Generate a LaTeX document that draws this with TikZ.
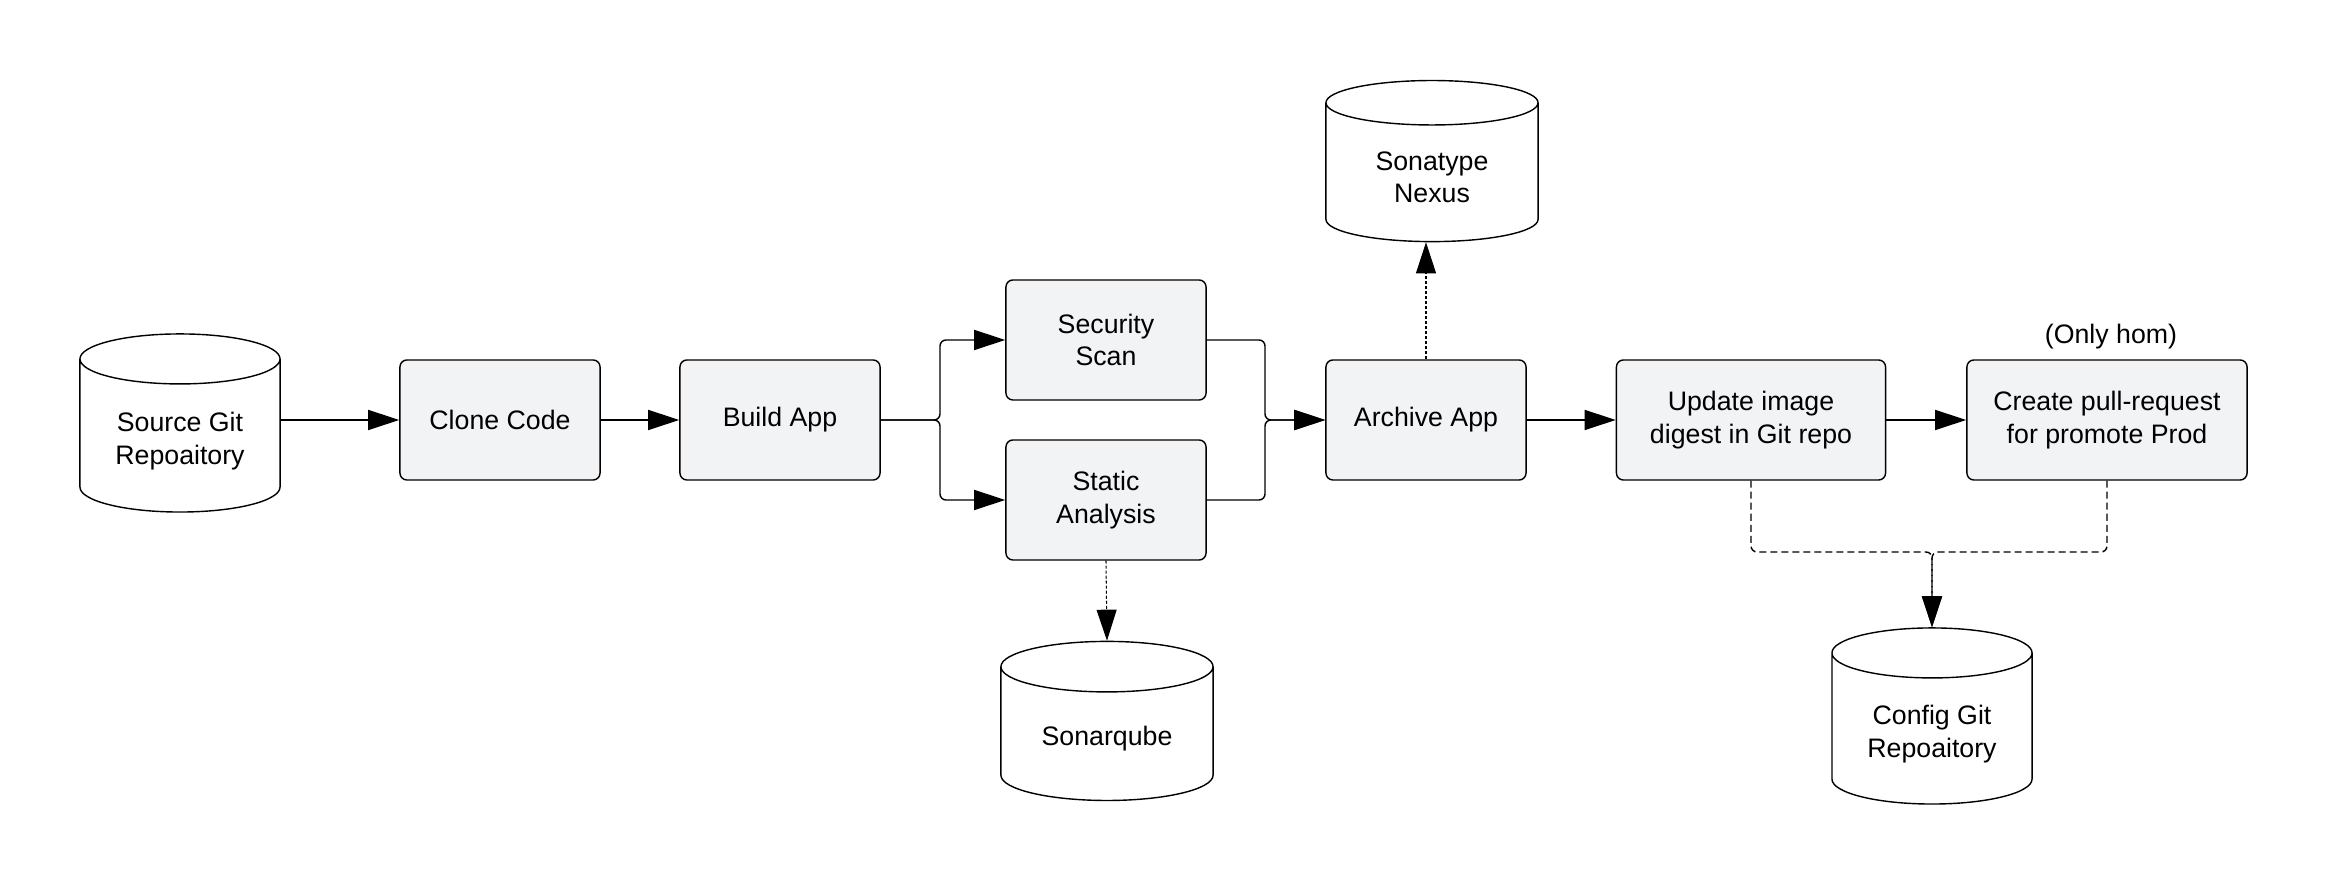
\documentclass[tikz,border=0pt]{standalone}
\usepackage{fontspec}
\setmainfont{Liberation Sans}
\usetikzlibrary{shapes.geometric}
\usetikzlibrary{arrows.meta}
\definecolor{boxgray}{RGB}{242,243,245}
\tikzset{
	stepstyle/.style={rectangle,rounded corners=0.07cm,draw=black,fill=boxgray,minimum width=2cm,minimum height=1.2cm,align=center,line width=0.4pt},
	dbstyle/.style={cylinder,shape border rotate=90,draw=black,fill=white,aspect=0.34,align=center,line width=0.4pt},
	flowstyle/.style={-{Triangle[length=0.31cm,width=0.2cm]},line width=0.4pt},
	linkstyle/.style={flowstyle,line width=0.3pt,dash pattern=on 0.03cm off 0.02cm},
	gitstyle/.style={flowstyle,dash pattern=on 0.07cm off 0.04cm}
}
\begin{document}
\begin{tikzpicture}[x=0.01cm,y=-0.01cm]
	\fontsize{7.6}{9.2}\selectfont
	\useasboundingbox (0,0) rectangle (2326,886);
	\node[dbstyle,minimum width=2cm,minimum height=1.78cm] (src) at (180,441) {Source Git\\Repoaitory};
	\node[stepstyle] (clone) at (500,420) {Clone Code};
	\node[stepstyle] (build) at (780,420) {Build App};
	\node[stepstyle] (sec) at (1106,340) {Security\\Scan};
	\node[stepstyle] (stat) at (1106,500) {Static\\Analysis};
	\node[stepstyle] (arch) at (1426,420) {Archive App};
	\node[dbstyle,minimum width=2.12cm,minimum height=1.61cm] (nexus) at (1432,177) {Sonatype\\Nexus};
	\node[dbstyle,minimum width=2.12cm,minimum height=1.59cm] (sonar) at (1107,739) {Sonarqube};
	\node[stepstyle,minimum width=2.69cm] (upd) at (1751,420) {Update image\\digest in Git repo};
	\node[stepstyle,minimum width=2.8cm] (pr) at (2107,420) {Create pull-request\\for promote Prod};
	\node (prnote) at (2111,337) {(Only hom)};
	\node[dbstyle,minimum width=2cm,minimum height=1.76cm] (cfg) at (1932,734) {Config Git\\Repoaitory};
	\coordinate (split) at (940,420);
	\coordinate (join) at (1265,420);
	\coordinate (cfgjoin) at (1932,552);
	\draw[flowstyle] (src.east |- clone.west) -- (clone);
	\draw[flowstyle] (clone) -- (build);
	\draw[flowstyle,rounded corners=0.06cm] (build.east) -- (split) |- (sec.west);
	\draw[flowstyle,rounded corners=0.06cm] (build.east) -- (split) |- (stat.west);
	\draw[flowstyle,rounded corners=0.06cm] (sec.east) -| (join) -- (arch.west);
	\draw[flowstyle,rounded corners=0.06cm] (stat.east) -| (join) -- (arch.west);
	\draw[flowstyle] (arch) -- (upd);
	\draw[flowstyle] (upd) -- (pr);
	\draw[linkstyle] (arch.north) -- (arch.north |- nexus.south);
	\draw[linkstyle] (stat.south) -- (sonar.north);
	\draw[gitstyle,rounded corners=0.06cm] (upd.south) |- (cfgjoin) -- (cfg.north);
	\draw[gitstyle,rounded corners=0.06cm] (pr.south) |- (cfgjoin) -- (cfg.north);
\end{tikzpicture}
\end{document}
